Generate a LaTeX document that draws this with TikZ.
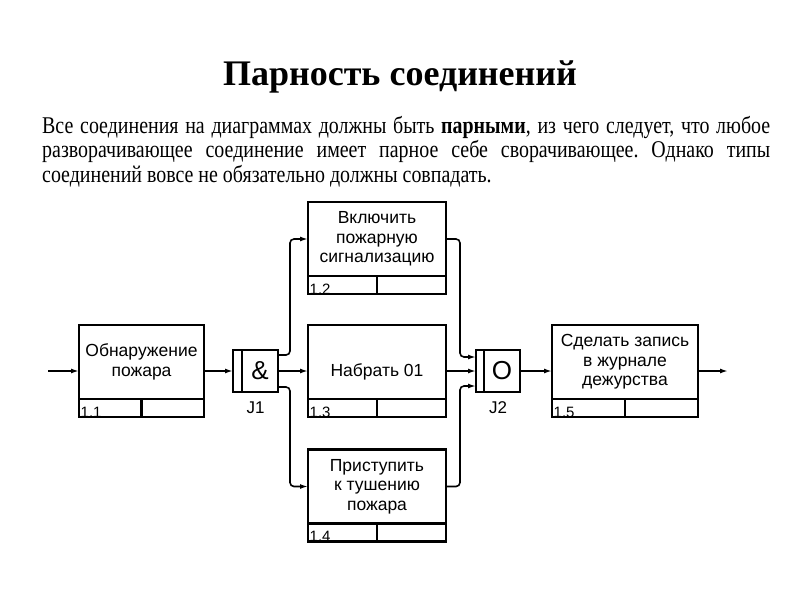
\documentclass[tikz,border=0pt]{standalone}
\usepackage{fontspec}
\setmainfont{Liberation Serif}
\newfontfamily\narrowserif[FakeStretch=0.83]{Liberation Serif}
\newfontfamily\boxfont{Liberation Sans}
\usetikzlibrary{arrows.meta}

\begin{document}
\begin{tikzpicture}[x=1pt,y=-1pt,
    func/.style={rectangle,draw=black,line width=2.6pt,outer sep=0pt,inner sep=0pt,
        minimum width=138pt,minimum height=74pt,align=center,
        font=\boxfont\fontsize{17.5}{19.5}\selectfont},
    junc/.style={rectangle,draw=black,line width=2.6pt,outer sep=0pt,
        minimum width=44pt,minimum height=42pt},
    sym/.style={font=\boxfont\fontsize{26}{28}\selectfont},
    flow/.style={draw=black,line width=1.6pt,rounded corners=4pt,
        -{Latex[length=8pt,width=5pt]}},
    num/.style={anchor=south west,inner sep=0.5pt,font=\boxfont\fontsize{15}{15}\selectfont},
    ]
    \useasboundingbox (0,0) rectangle (800,600);

    % heading and text
    \node (title) [anchor=base,font=\bfseries\fontsize{36}{38}\selectfont] at (400,85) {Парность соединений};
    \node (para) [anchor=north west,inner sep=0pt,text width=728pt,align=justify,
        font=\narrowserif\fontsize{24}{24.5}\selectfont\frenchspacing] at (42,116)
        {Все соединения на диаграммах должны быть \textbf{парными}, из чего следует, что любое\linebreak
        разворачивающее соединение имеет парное себе сворачивающее. Однако типы\linebreak
        соединений вовсе не обязательно должны совпадать.};

    % functions
    \node[func,minimum width=125pt] (A) at (141.5,362) {Обнаружение\\пожара};
    \node[func] (B) at (377,239) {Включить\\пожарную\\сигнализацию};
    \node[func,text height=28pt,text depth=0pt] (C) at (377,362) {Набрать 01};
    \node[func] (D) at (377,486.5) {Приступить\\к тушению\\пожара};
    \node[func,minimum width=146pt] (E) at (625,362) {Сделать запись\\в журнале\\дежурства};
    \foreach \b/\n in {A/1.1,B/1.2,C/1.3,D/1.4,E/1.5} {
        \draw[line width=2.6pt] (\b.south west) rectangle ([yshift=-18pt]\b.south east);
        \draw[line width=2.6pt] (\b.south) -- ([yshift=-18pt]\b.south);
        \node[num] (n\b) at ([xshift=1pt,yshift=-19pt]\b.south west) {\n};
    }

    % junctions
    \node[junc,minimum width=45pt] (J1) at (255.5,371) {};
    \node[junc] (J2) at (498,371) {};
    \draw[line width=2.4pt] ([xshift=9pt]J1.north west) -- ([xshift=9pt]J1.south west);
    \draw[line width=2.4pt] ([xshift=8pt]J2.north west) -- ([xshift=8pt]J2.south west);
    \node[sym] (J1s) at ([xshift=4.5pt]J1.center) {\&};
    \node[sym] (J2s) at ([xshift=4pt]J2.center) {O};
    \node[sym,font=\boxfont\fontsize{17}{19}\selectfont,below=6pt] (J1l) at (J1.south) {J1};
    \node[sym,font=\boxfont\fontsize{17}{19}\selectfont,below=6pt] (J2l) at (J2.south) {J2};

    % arrows
    \coordinate (in) at (48,371);
    \draw[flow] (in) -- (in -| A.west);
    \draw[flow] (J1.west -| A.east) -- (J1.west);
    \draw[flow] ([yshift=-5pt]J1.north east) -- ++(12,0) |- (B.west);
    \draw[flow] (J1.east) -- (J1.east -| C.west);
    \draw[flow] ([yshift=5pt]J1.south east) -- ++(12,0) |- (D.west);
    \draw[flow] (B.east) -- ++(14,0) |- ([yshift=-7pt]J2.north west);
    \draw[flow] (J2.west -| C.east) -- (J2.west);
    \draw[flow] (D.east) -- ++(14,0) |- ([yshift=6pt]J2.south west);
    \draw[flow] (J2.east) -- (J2.east -| E.west);
    \draw[flow] (J2.east -| E.east) -- ++(30,0);
\end{tikzpicture}
\end{document}
